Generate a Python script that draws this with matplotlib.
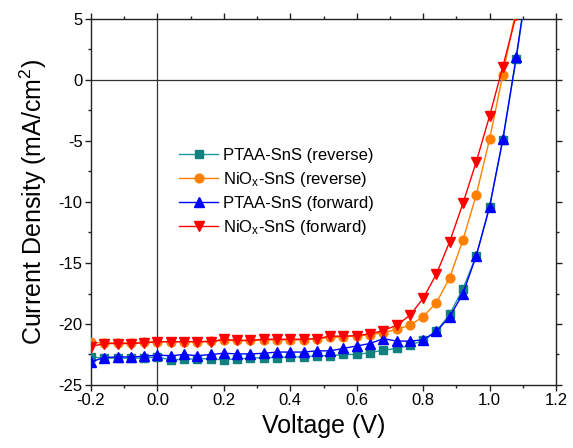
import matplotlib
matplotlib.use("Agg")
import matplotlib.pyplot as plt
from matplotlib.ticker import MultipleLocator

plt.rcParams['font.family'] = ['Liberation Sans', 'DejaVu Sans']
plt.rcParams['mathtext.fontset'] = 'custom'
plt.rcParams['mathtext.rm'] = 'Liberation Sans'
plt.rcParams['mathtext.it'] = 'Liberation Sans'

voltage = [-0.20, -0.16, -0.12, -0.08, -0.04, 0.00, 0.04, 0.08, 0.12, 0.16, 0.20,
           0.24, 0.28, 0.32, 0.36, 0.40, 0.44, 0.48, 0.52, 0.56, 0.60, 0.64,
           0.68, 0.72, 0.76, 0.80, 0.84, 0.88, 0.92, 0.96, 1.00, 1.04, 1.08, 1.12]

ptaa_reverse = [-22.7, -22.8, -22.8, -22.8, -22.8, -22.7, -22.95, -22.9, -22.85, -22.85, -22.95,
                -22.85, -22.8, -22.75, -22.75, -22.7, -22.7, -22.6, -22.6, -22.5, -22.5, -22.35,
                -22.15, -22.0, -21.75, -21.35, -20.6, -19.2, -17.1, -14.4, -10.4, -4.9, 1.7, 9.0]

niox_reverse = [-21.5, -21.55, -21.55, -21.55, -21.5, -21.45, -21.45, -21.45, -21.45, -21.4, -21.35,
                -21.35, -21.35, -21.3, -21.3, -21.3, -21.3, -21.2, -21.1, -21.05, -20.95, -20.9,
                -20.7, -20.45, -20.1, -19.4, -18.25, -16.2, -13.1, -9.4, -4.85, 0.45, 5.8, 11.5]

ptaa_forward = [-23.1, -22.75, -22.7, -22.7, -22.65, -22.55, -22.6, -22.5, -22.6, -22.5, -22.4,
                -22.45, -22.45, -22.4, -22.3, -22.3, -22.3, -22.2, -22.2, -22.0, -21.8, -21.6,
                -21.2, -21.4, -21.4, -21.3, -20.6, -19.4, -17.5, -14.4, -10.4, -4.85, 1.85, 9.2]

niox_forward = [-21.85, -21.6, -21.6, -21.6, -21.55, -21.45, -21.45, -21.45, -21.45, -21.45, -21.25,
                -21.35, -21.35, -21.25, -21.25, -21.25, -21.25, -21.2, -21.0, -21.0, -20.95, -20.8,
                -20.55, -20.1, -19.3, -17.9, -15.9, -13.25, -10.1, -6.7, -2.95, 1.1, 5.3, 9.8]

labels = ['PTAA-SnS (reverse)', 'NiO$_{\\mathregular{x}}$-SnS (reverse)',
          'PTAA-SnS (forward)', 'NiO$_{\\mathregular{x}}$-SnS (forward)']

fig = plt.figure(figsize=(5.73, 4.48), dpi=100)
ax = fig.add_axes([91/573, 1-385/448, (556-91)/573, (385-19)/448])

ax.axhline(0, color='#333333', lw=0.9, zorder=1)
ax.axvline(0, color='#333333', lw=0.9, zorder=1)

ax.plot(voltage, ptaa_reverse, '-s', color='#1a9a9a', mfc='#138080', mec='#138080', ms=5.8, lw=1.0, label=labels[0], zorder=3)
ax.plot(voltage, niox_reverse, '-o', color='#ff8000', mfc='#ff8000', mec='#ff8000', ms=6.3, lw=1.0, label=labels[1], zorder=4)
ax.plot(voltage, ptaa_forward, '-^', color='#0000ff', mfc='#0000ff', mec='#0000ff', ms=7.0, lw=1.0, label=labels[2], zorder=5)
ax.plot(voltage, niox_forward, '-v', color='#ff0000', mfc='#ff0000', mec='#ff0000', ms=7.0, lw=1.0, label=labels[3], zorder=6)

ax.set_xlim(-0.2, 1.2)
ax.set_ylim(-25, 5)
ax.xaxis.set_major_locator(MultipleLocator(0.2))
ax.xaxis.set_minor_locator(MultipleLocator(0.1))
ax.yaxis.set_major_locator(MultipleLocator(5))
ax.yaxis.set_minor_locator(MultipleLocator(2.5))
ax.set_xticks([-0.2, 0.0, 0.2, 0.4, 0.6, 0.8, 1.0, 1.2])
ax.set_xticklabels(['-0.2', '0.0', '0.2', '0.4', '0.6', '0.8', '1.0', '1.2'])
ax.set_yticks([-25, -20, -15, -10, -5, 0, 5])
ax.set_yticklabels(['-25', '-20', '-15', '-10', '-5', '0', '5'])

for s in ax.spines.values():
    s.set_linewidth(1.0)
    s.set_color('#222222')

ax.tick_params(axis='both', which='both', direction='out', labelsize=12, color='#222222',
               width=1.0, top=True, right=True, pad=2)
ax.tick_params(which='major', length=4)
ax.tick_params(which='minor', length=2.5)
ax.tick_params(axis='x', which='both', top=True)

ax.set_xlabel('Voltage (V)', fontsize=18, labelpad=4)
ax.set_ylabel('Current Density (mA/cm$^{\\mathregular{2}}$)', fontsize=18, labelpad=7)

leg = ax.legend(loc='upper left', bbox_to_anchor=(0.19, 0.648), frameon=False, fontsize=12,
                handlelength=2.3, handletextpad=0.3, borderpad=0, labelspacing=0.42, borderaxespad=0)

fig.savefig('out.png', dpi=100)
